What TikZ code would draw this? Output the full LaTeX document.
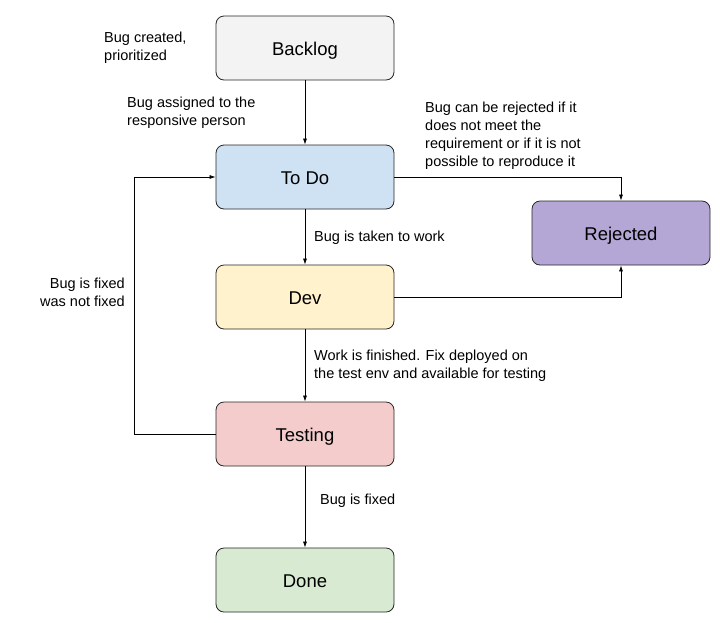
\documentclass[tikz,border=0pt]{standalone}
\usepackage{fontspec}
\setmainfont{Liberation Sans}
\usetikzlibrary{arrows.meta,positioning}
\definecolor{backlogfill}{HTML}{F3F3F3}
\definecolor{todofill}{HTML}{CFE2F3}
\definecolor{devfill}{HTML}{FFF2CC}
\definecolor{testfill}{HTML}{F4CCCC}
\definecolor{donefill}{HTML}{D9EAD3}
\definecolor{rejectfill}{HTML}{B4A7D6}
\begin{document}
\begin{tikzpicture}[x=1pt,y=-1pt,
    state/.style={draw=black!85, line width=0.8pt, rounded corners=8pt,
      minimum width=178pt, minimum height=64pt, text height=16pt, text depth=2pt,
      font=\fontsize{18.5}{22}\selectfont},
    note/.style={inner sep=0pt, align=left, font=\fontsize{14.5}{18}\selectfont},
    flow/.style={-{Latex[length=6pt,width=4pt]}, line width=0.7pt}]
	\useasboundingbox (0,0) rectangle (720,622);

	% States
	\node[state, fill=backlogfill] (backlog) at (305,48) {Backlog};
	\node[state, fill=todofill] (todo) at (305,177) {To Do};
	\node[state, fill=devfill] (dev) at (305,297) {Dev};
	\node[state, fill=testfill] (testing) at (305,434) {Testing};
	\node[state, fill=donefill] (done) at (305,580) {Done};
	\node[state, fill=rejectfill] (rejected) at (621,233) {Rejected};
	\coordinate (loopback) at (134,434);

	% Transitions
	\draw[flow] (backlog) -- (todo);
	\draw[flow] (todo) -- (dev);
	\draw[flow] (dev) -- (testing);
	\draw[flow] (testing) -- (done);
	\draw[flow] (todo.east) -| (rejected.north);
	\draw[flow] (dev.east) -| (rejected.south);
	\draw[flow] (testing.west) -- (loopback) |- (todo.west);

	% Notes
	\node[note, anchor=west] (created) at (104,48) {Bug created,\\prioritized};
	\node[note, anchor=west] (assigned) at (127,113) {Bug assigned to the\\responsive person};
	\node[note, anchor=west] (reject) at (425,135.5) {Bug can be rejected if it\\does not meet the\\requirement or if it is not\\possible to reproduce it};
	\node[note, anchor=west] (taken) at (314,238) {Bug is taken to work};
	\node[note, anchor=east, align=right] (notfixed) at (125,292.5) {Bug is fixed\\was not fixed};
	\node[note, anchor=west] (finished) at (314,366) {Work is finished. Fix deployed on\\the test env and available for testing};
	\node[note, anchor=west] (fixed) at (320,501) {Bug is fixed};
\end{tikzpicture}
\end{document}
